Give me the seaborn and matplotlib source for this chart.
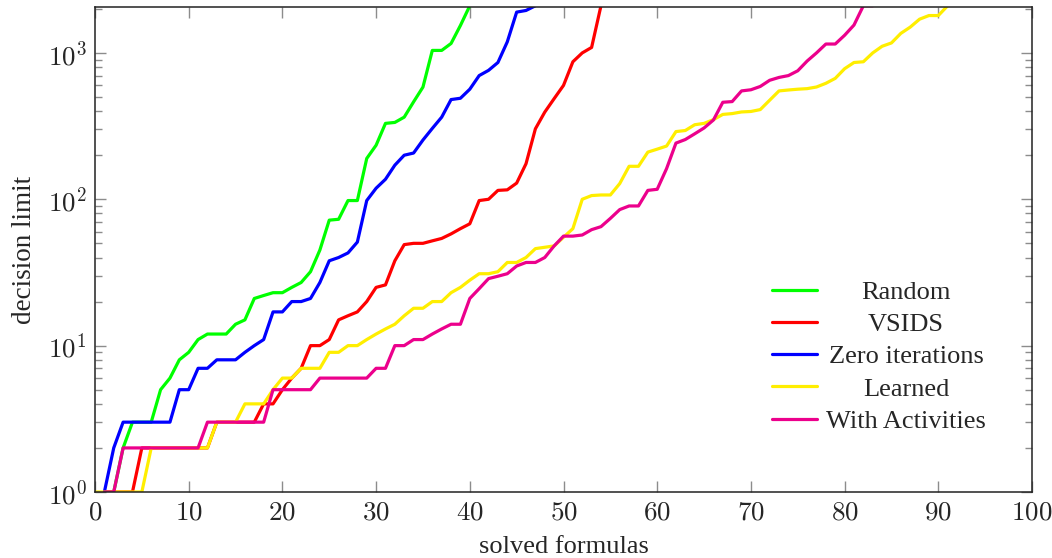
import numpy as np
import pandas as pd
import seaborn as sns
import matplotlib
matplotlib.use("Agg")
import matplotlib.pyplot as plt
from matplotlib.ticker import LogLocator, NullFormatter

# decision limit needed for the n-th solved formula
random_vals = [1, 1, 2, 3, 3, 3, 5, 6, 8, 9, 11, 12, 12, 12, 14, 15, 21, 22, 23, 23,
               25, 27, 32, 45, 72, 73, 98, 98, 190, 234, 330, 335, 364, 463, 584,
               1040, 1040, 1160, 1540, 2100]
vsids_vals = [1, 1, 1, 1, 2, 2, 2, 2, 2, 2, 2, 2, 3, 3, 3, 3, 3, 4, 4, 5, 6, 7, 10, 10,
              11, 15, 16, 17, 20, 25, 26, 38, 49, 50, 50, 52, 54, 58, 63, 68, 98, 100,
              115, 116, 129, 175, 303, 394, 487, 600, 870, 1000, 1090, 2100]
zero_vals = [1, 2, 3, 3, 3, 3, 3, 3, 5, 5, 7, 7, 8, 8, 8, 9, 10, 11, 17, 17, 20, 20,
             21, 27, 38, 40, 43, 51, 98, 119, 137, 171, 200, 207, 254, 305, 364, 480,
             490, 565, 700, 760, 860, 1190, 1900, 1950, 2100]
learned_vals = [1, 1, 1, 1, 1, 1, 2, 2, 2, 2, 2, 2, 2, 3, 3, 3, 4, 4, 4, 5, 6, 6, 7, 7,
                7, 9, 9, 10, 10, 11, 12, 13, 14, 16, 18, 18, 20, 20, 23, 25, 28, 31, 31,
                32, 37, 37, 40, 46, 47, 48, 55, 63, 100, 106, 107, 107, 128, 168, 168,
                210, 220, 231, 290, 295, 323, 330, 350, 380, 385, 395, 398, 410, 475,
                550, 558, 565, 570, 585, 620, 670, 780, 860, 870, 1000, 1110, 1170,
                1360, 1500, 1700, 1800, 1800, 2100]
activ_vals = [1, 1, 2, 2, 2, 2, 2, 2, 2, 2, 2, 3, 3, 3, 3, 3, 3, 3, 5, 5, 5, 5, 5, 6, 6,
              6, 6, 6, 6, 7, 7, 10, 10, 11, 11, 12, 13, 14, 14, 21, 24.5, 28.7, 29.8, 31,
              35, 37, 37, 40, 48, 56, 56, 57, 62, 65, 74, 85, 90, 90, 115, 117, 162,
              242, 256, 280, 307, 348, 460, 465, 550, 560, 590, 650, 680, 700, 755,
              880, 1000, 1150, 1150, 1320, 1550, 2100, 2100]

names = ["Random", "VSIDS", "Zero iterations", "Learned", "With Activities"]
starts = [1, 1, 1, 0, 1]
series = [random_vals, vsids_vals, zero_vals, learned_vals, activ_vals]
colors = ["#00ff00", "#ff0000", "#0000ff", "#ffee00", "#ec008c"]

frames = []
for name, s0, vals in zip(names, starts, series):
    frames.append(pd.DataFrame({"solved": np.arange(s0, s0 + len(vals)),
                                "limit": vals, "method": name}))
df = pd.concat(frames, ignore_index=True)

sns.set_style("ticks")
plt.rcParams["font.family"] = ["Liberation Serif", "DejaVu Serif"]
plt.rcParams["mathtext.fontset"] = "cm"

fig = plt.figure(figsize=(10.52, 5.58), dpi=100)
ax = fig.add_axes([0.0903, 0.1183, 0.8907, 0.8692])

sns.lineplot(data=df, x="solved", y="limit", hue="method", hue_order=names,
             palette=colors, estimator=None, sort=False, linewidth=2.3, ax=ax)

ax.set_yscale("log")
ax.set_xlim(0, 100)
ax.set_ylim(1, 2060)
ax.set_xticks(range(0, 101, 10))
ax.set_xticklabels([r"$%d$" % v for v in range(0, 101, 10)])
ax.set_yticks([1, 10, 100, 1000])
ax.set_yticklabels([r"$10^{0}$", r"$10^{1}$", r"$10^{2}$", r"$10^{3}$"])
ax.yaxis.set_minor_locator(LogLocator(base=10, subs=np.arange(2, 10)))
ax.yaxis.set_minor_formatter(NullFormatter())

ax.tick_params(which="both", direction="in", top=True, right=True,
               color="#8c8c8c", width=1.0, labelsize=19.5, pad=6)
ax.tick_params(which="major", length=8)
ax.tick_params(which="minor", length=4.8)
for sp in ax.spines.values():
    sp.set_color("#222222")
    sp.set_linewidth(1.1)

ax.set_xlabel("solved formulas", fontsize=19, labelpad=8)
ax.set_ylabel("decision limit", fontsize=19.5, labelpad=8)

leg = ax.legend(loc="center", bbox_to_anchor=(0.837, 0.279), frameon=False,
                fontsize=19, handlelength=1.7, handletextpad=0.34,
                labelspacing=0.33, borderaxespad=0)
for line in leg.get_lines():
    line.set_linewidth(2.3)

# pgfplots centres the legend text
fig.canvas.draw()
renderer = fig.canvas.get_renderer()
texts = leg.get_texts()
widths = [t.get_window_extent(renderer).width for t in texts]
maxw = max(widths)
for t, w in zip(texts, widths):
    t.set_position(((maxw - w) / 2, 0))

fig.savefig("out.png", dpi=100)
